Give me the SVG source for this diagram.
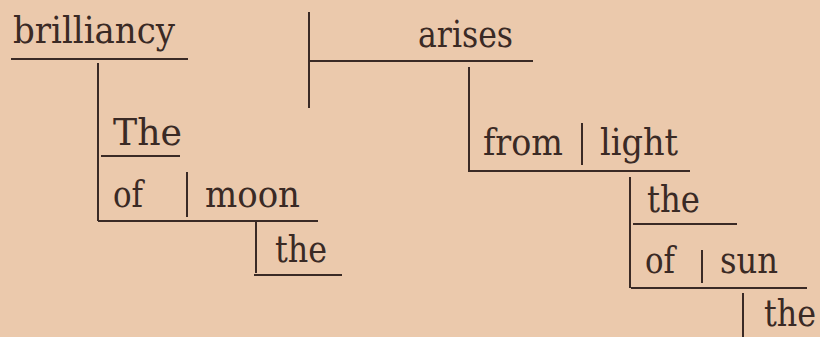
<svg xmlns="http://www.w3.org/2000/svg" width="820" height="337" viewBox="0 0 820 337">
<style>
text{font-family:"DejaVu Serif","Liberation Serif",serif;font-size:38px;fill:#3a2a25}
line{stroke:#3a2a25;stroke-width:2;stroke-linecap:butt}
</style>
<rect width="820" height="337" fill="#ebc9ac"/>
<g id="connectors">
<line x1="11" y1="59" x2="188" y2="59"/>
<line x1="309" y1="12" x2="309" y2="108"/>
<line x1="309" y1="61" x2="533" y2="61"/>
<line x1="98" y1="63" x2="98" y2="221"/>
<line x1="101" y1="156" x2="180" y2="156"/>
<line x1="187" y1="172" x2="187" y2="217"/>
<line x1="98" y1="221" x2="318" y2="221"/>
<line x1="256" y1="221" x2="256" y2="273"/>
<line x1="254" y1="275" x2="342" y2="275"/>
<line x1="469" y1="67" x2="469" y2="171"/>
<line x1="468" y1="171" x2="690" y2="171"/>
<line x1="582" y1="123" x2="582" y2="165"/>
<line x1="630" y1="177" x2="630" y2="288"/>
<line x1="633" y1="224" x2="737" y2="224"/>
<line x1="702" y1="250" x2="702" y2="283"/>
<line x1="631" y1="288" x2="807" y2="288"/>
<line x1="743" y1="293" x2="743" y2="337"/>
</g>
<g id="brilliancy"><text x="13" y="43" textLength="162" lengthAdjust="spacingAndGlyphs">brilliancy</text></g>
<g id="arises"><text x="418" y="47" textLength="95" lengthAdjust="spacingAndGlyphs">arises</text></g>
<g id="The"><text x="113" y="145" textLength="69" lengthAdjust="spacingAndGlyphs">The</text></g>
<g id="of1"><text x="113" y="207" textLength="30" lengthAdjust="spacingAndGlyphs">of</text></g>
<g id="moon"><text x="205" y="207" textLength="95" lengthAdjust="spacingAndGlyphs">moon</text></g>
<g id="the1"><text x="275" y="262" textLength="52" lengthAdjust="spacingAndGlyphs">the</text></g>
<g id="from"><text x="483" y="155" textLength="80" lengthAdjust="spacingAndGlyphs">from</text></g>
<g id="light"><text x="600" y="155" textLength="78" lengthAdjust="spacingAndGlyphs">light</text></g>
<g id="the2"><text x="647" y="212" textLength="53" lengthAdjust="spacingAndGlyphs">the</text></g>
<g id="of2"><text x="645" y="273" textLength="30" lengthAdjust="spacingAndGlyphs">of</text></g>
<g id="sun"><text x="720" y="273" textLength="58" lengthAdjust="spacingAndGlyphs">sun</text></g>
<g id="the3"><text x="764" y="326" textLength="52" lengthAdjust="spacingAndGlyphs">the</text></g>
</svg>
